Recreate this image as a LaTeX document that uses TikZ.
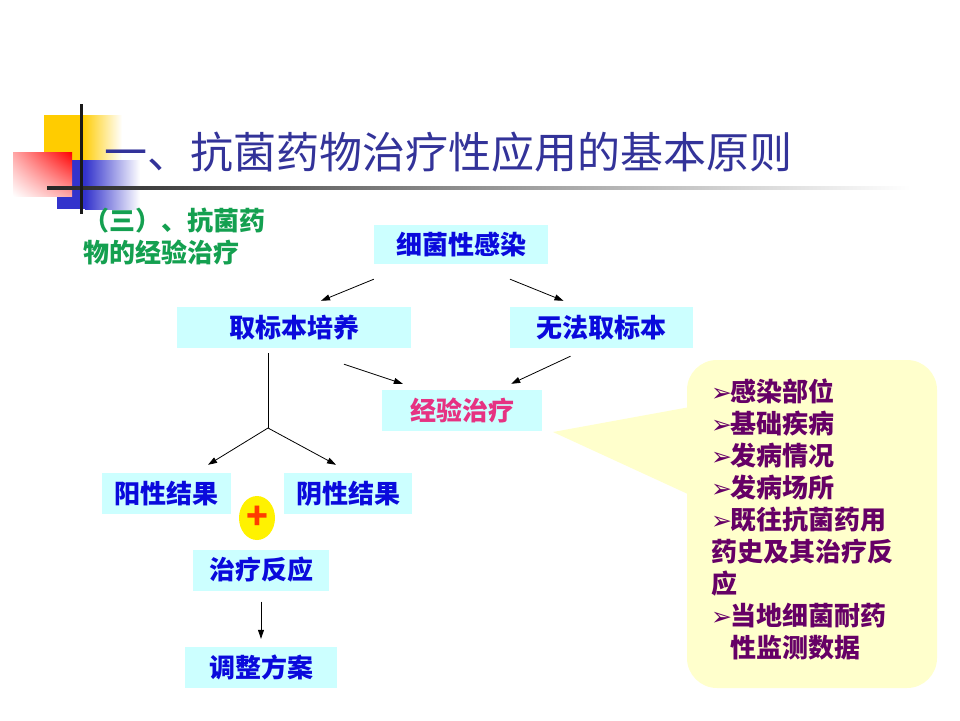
\documentclass[tikz,border=0pt]{standalone}
\usepackage{fontspec}
\usetikzlibrary{arrows.meta,shapes.geometric,shadings}
\newfontfamily\cjk{Noto Sans CJK SC}
\newfontfamily\dingfont{DejaVu Sans}
\definecolor{boxcyan}{RGB}{204,255,255}
\definecolor{textblue}{RGB}{10,10,220}
\definecolor{titleblue}{RGB}{51,51,153}
\definecolor{leafgreen}{RGB}{20,160,80}
\definecolor{rosepink}{RGB}{230,50,130}
\definecolor{notecream}{RGB}{255,255,204}
\definecolor{noteplum}{RGB}{102,0,102}
\definecolor{deckyellow}{RGB}{255,204,0}
\definecolor{deckblue}{RGB}{51,51,204}
\definecolor{plusred}{RGB}{255,60,0}
\newcommand{\pointer}{\makebox[19pt][l]{\dingfont\fontsize{25}{25}\selectfont ➢}}
\begin{document}
\begin{tikzpicture}[x=1pt,y=-1pt,
    box/.style={fill=boxcyan,minimum height=41pt,inner sep=0pt,text=textblue,font=\cjk\bfseries\fontsize{26}{30}\selectfont},
    arr/.style={-{Triangle[length=9pt,width=6pt]},line width=0.8pt}]
        \useasboundingbox[fill=white](0,0)rectangle(960,720);

        % slide decoration
        \fill[deckyellow](44,115)rectangle(82,160);
        \shade[left color=deckyellow,right color=white](82,115)rectangle(122,160);
        \fill[deckblue](57,160)rectangle(85,209);
        \shade[left color=deckblue,right color=white](85,160)rectangle(140,209);
        \shade[upper right=red,upper left=red!35,lower right=red!35,lower left=white](13,152)rectangle(72,196);
        \shade[left color=black!85,right color=white](47,186.5)rectangle(910,189.5);
        \fill[black!90](79.5,104)rectangle(82.5,214);

        \node[anchor=west,inner sep=0pt,text=titleblue,font=\cjk\fontsize{43}{43}\selectfont](title)at(104,152){一、抗菌药物治疗性应用的基本原则};
        \node[anchor=west,align=left,inner sep=0pt,text=leafgreen,font=\cjk\bfseries\fontsize{26}{32}\selectfont](section)at(83,236){（三）、抗菌药\\物的经验治疗};

        % flow
        \node[box,minimum width=174pt,minimum height=39pt](infect)at(461,244.5){细菌性感染};
        \node[box,minimum width=234pt](culture)at(294,327.5){取标本培养};
        \node[box,minimum width=183pt](nosample)at(601.5,327.5){无法取标本};
        \node[box,minimum width=160pt,text=rosepink](empiric)at(462,410.5){经验治疗};
        \node[box,minimum width=129pt](positive)at(166.5,493.5){阳性结果};
        \node[box,minimum width=128pt](negative)at(348,493.5){阴性结果};
        \node[box,minimum width=136pt](response)at(261,570){治疗反应};
        \node[box,minimum width=152pt](adjust)at(261,667.5){调整方案};
        \node[ellipse,fill=yellow,minimum width=36pt,minimum height=44pt,inner sep=0pt,text=plusred,font=\cjk\bfseries\fontsize{36}{36}\selectfont](plus)at(257,518){+};

        \draw[arr]([yshift=-15pt]infect.south west)--([xshift=27pt,yshift=6pt]culture.north);
        \draw[arr]([xshift=49pt,yshift=-15pt]infect.south)--([xshift=-38pt,yshift=6pt]nosample.north);
        \draw[arr]([xshift=50pt,yshift=-16pt]culture.south)--([xshift=21pt,yshift=6pt]empiric.north west);
        \draw[arr]([xshift=-31pt,yshift=-8pt]nosample.south)--([xshift=-31pt,yshift=6pt]empiric.north east);
        \coordinate(fork)at(268,428);
        \draw[line width=0.8pt]([xshift=-26pt,yshift=-5pt]culture.south)--(fork);
        \draw[arr](fork)--([xshift=41.5pt,yshift=8pt]positive.north);
        \draw[arr](fork)--([xshift=-12pt,yshift=8pt]negative.north);
        \draw[arr]([yshift=-11pt]response.south)--([yshift=8pt]adjust.north);

        % callout
        \fill[notecream,rounded corners=30pt](687,360)rectangle(937,688);
        \fill[notecream](553,432)--(690,407)--(690,495)--cycle;
        \node[anchor=north west,align=left,inner sep=0pt,text=noteplum,font=\cjk\bfseries\fontsize{26}{32}\selectfont](factors)at(711,379){\pointer 感染部位\\\pointer 基础疾病\\\pointer 发病情况\\\pointer 发病场所\\\pointer 既往抗菌药用\\药史及其治疗反\\应\\\pointer 当地细菌耐药\\\hspace*{19pt}性监测数据};
    \end{tikzpicture}
\end{document}
